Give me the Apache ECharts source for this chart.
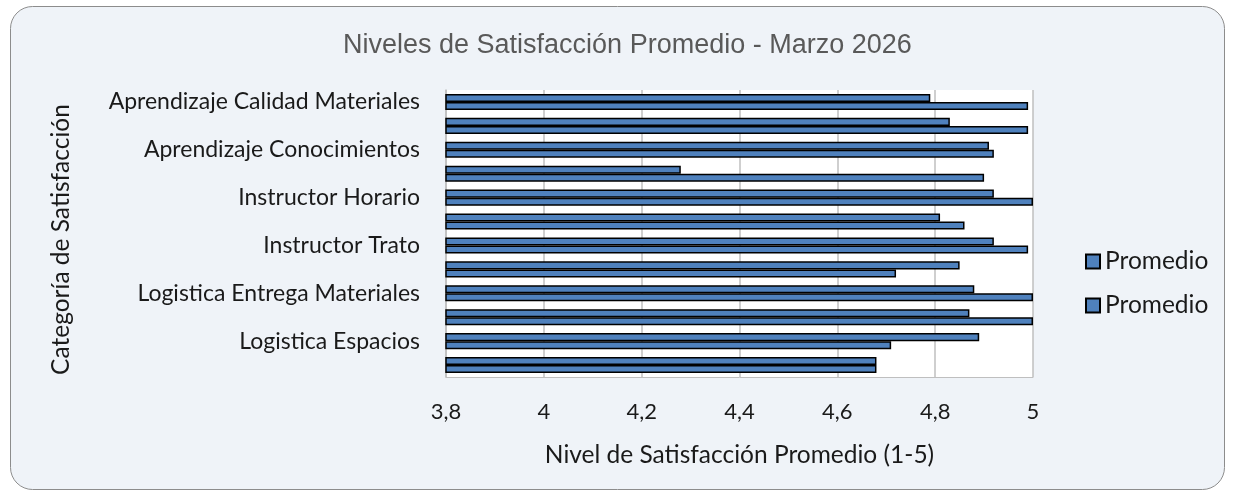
<!DOCTYPE html>
<html>
<head>
<meta charset="utf-8">
<script src="https://cdn.jsdelivr.net/npm/echarts@6/dist/echarts.min.js"></script>
<style>
  html, body { margin: 0; padding: 0; background: #fff; }
  #chart { width: 1235px; height: 497px; }
</style>
</head>
<body>
<div id="chart"></div>
<script>
// categorias (de arriba hacia abajo)
var categories = [
  'Aprendizaje Calidad Materiales',
  'Aprendizaje Claridad Objetivos',
  'Aprendizaje Conocimientos',
  'Instructor Dominio',
  'Instructor Horario',
  'Instructor Metodologia',
  'Instructor Trato',
  'Logistica Alimentacion',
  'Logistica Entrega Materiales',
  'Logistica Equipos',
  'Logistica Espacios',
  'Logistica Horario'
]
// barra superior de cada categoria
var promedioA = [4.79, 4.83, 4.91, 4.28, 4.92, 4.81, 4.92, 4.85, 4.88, 4.87, 4.89, 4.68]
// barra inferior de cada categoria
var promedioB = [4.99, 4.99, 4.92, 4.90, 5.00, 4.86, 4.99, 4.72, 5.00, 5.00, 4.71, 4.68]
var xTicks = [3.8, 4, 4.2, 4.4, 4.6, 4.8, 5]

var labelFont = 'Lato'
var chart = echarts.init(document.getElementById('chart'))

var barStyle = {
    color: '#4f81bd',
    borderColor: '#000',
    borderWidth: 1.5
}

var legendText = { fontFamily: labelFont, fontSize: 24.5, color: '#1a1a1a' }

chart.setOption({
    animation: false,
    graphic: [{
        type: 'rect',
        z: -10,
        shape: { x: 10.5, y: 6.5, width: 1214, height: 483, r: 22 },
        style: { fill: '#eff3f8', stroke: '#8c8c8c', lineWidth: 1 }
    }],
    title: {
        text: 'Niveles de Satisfacción Promedio - Marzo 2026',
        left: 338,
        top: 27,
        textStyle: {
            fontFamily: 'Liberation Sans',
            fontSize: 27,
            fontWeight: 'normal',
            color: '#595959'
        }
    },
    legend: [{
        data: ['Promedio'],
        left: 1080,
        top: 244,
        icon: 'rect',
        itemWidth: 14,
        itemHeight: 14,
        selectedMode: false,
        textStyle: legendText
    }, {
        data: ['Promedio'],
        left: 1080,
        top: 288,
        icon: 'rect',
        itemWidth: 14,
        itemHeight: 14,
        selectedMode: false,
        textStyle: legendText
    }],
    grid: {
        left: 446,
        right: 202,
        top: 90,
        bottom: 120,
        show: true,
        backgroundColor: '#fff',
        borderWidth: 0
    },
    xAxis: {
        type: 'value',
        min: 3.8,
        max: 5,
        interval: 0.2,
        name: 'Nivel de Satisfacción Promedio (1-5)',
        nameLocation: 'middle',
        nameGap: 66,
        nameTextStyle: { fontFamily: labelFont, fontSize: 24.5, color: '#1a1a1a' },
        axisLine: { show: true, lineStyle: { color: '#bfbfbf' } },
        axisTick: { show: false },
        splitLine: { show: true, lineStyle: { color: '#bfbfbf', width: 1.5 } },
        axisLabel: {
            margin: 24,
            fontFamily: labelFont,
            fontSize: 22,
            color: '#1a1a1a',
            formatter: function(v) {
                return String(+v.toFixed(1)).replace('.', ',')
            }
        }
    },
    yAxis: {
        type: 'category',
        inverse: true,
        data: categories,
        name: 'Categoría de Satisfacción',
        nameLocation: 'middle',
        nameGap: 372,
        nameTextStyle: { fontFamily: labelFont, fontSize: 24.5, color: '#1a1a1a', padding: [0, 12, 0, 0] },
        axisLine: { show: true, lineStyle: { color: '#bfbfbf', width: 1.5 } },
        axisTick: { show: false },
        axisLabel: {
            interval: 1,
            margin: 26,
            fontFamily: labelFont,
            fontSize: 23,
            color: '#1a1a1a'
        }
    },
    series: [{
        name: 'Promedio',
        type: 'bar',
        barGap: '0%',
        barCategoryGap: '33%',
        itemStyle: barStyle,
        data: promedioA
    }, {
        name: 'Promedio',
        type: 'bar',
        barGap: '0%',
        barCategoryGap: '33%',
        itemStyle: barStyle,
        data: promedioB
    }]
})
</script>
</body>
</html>
